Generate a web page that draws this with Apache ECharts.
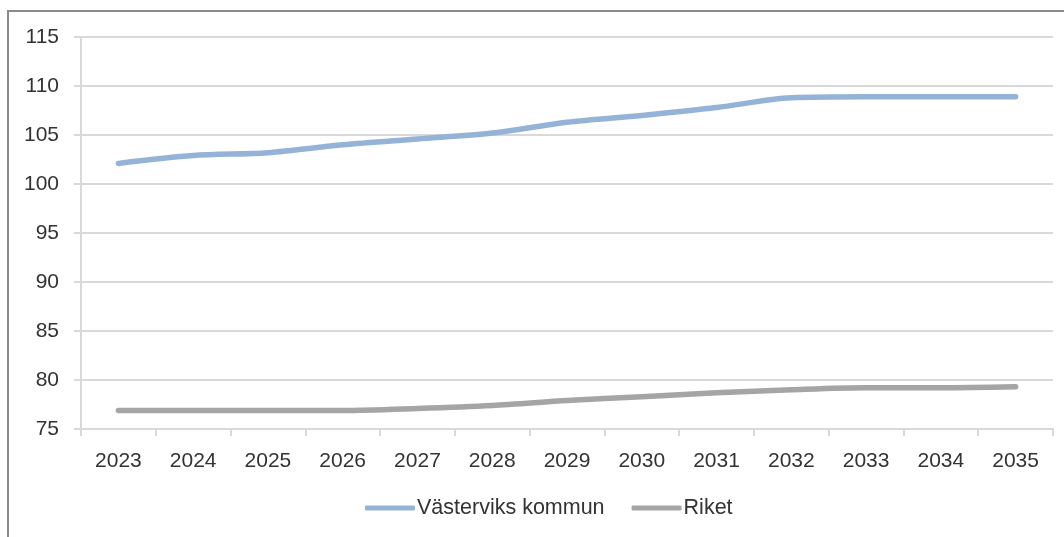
<!DOCTYPE html>
<html>
<head>
<meta charset="utf-8">
<script src="https://cdn.jsdelivr.net/npm/echarts@6/dist/echarts.min.js"></script>
<style>
html,body{margin:0;padding:0;background:#fff;}
#chart{width:1064px;height:537px;}
</style>
</head>
<body>
<div id="chart"></div>
<script>
const years = ['2023','2024','2025','2026','2027','2028','2029','2030','2031','2032','2033','2034','2035'];
const vastervik = [102.1, 102.9, 103.2, 104.0, 104.6, 105.2, 106.3, 107.0, 107.8, 108.8, 108.9, 108.9, 108.9];
const riket = [76.9, 76.9, 76.9, 76.9, 77.1, 77.4, 77.9, 78.3, 78.7, 79.0, 79.2, 79.2, 79.3];
const seriesNames = ['Västerviks kommun', 'Riket'];

const font = 'Liberation Sans';
const textColor = '#333333';
const chart = echarts.init(document.getElementById('chart'));
chart.setOption({
  animation: false,
  backgroundColor: '#fff',
  graphic: [{
    type: 'rect',
    shape: {x: 8, y: 11, width: 1100, height: 600},
    style: {fill: 'none', stroke: '#8a8a8a', lineWidth: 2},
    silent: true
  }],
  grid: {left: 81, right: 11, top: 37, bottom: 108},
  legend: {
    bottom: 13,
    left: 360,
    itemWidth: 50,
    itemHeight: 5,
    itemGap: 27,
    icon: 'roundRect',
    textStyle: {fontFamily: font, fontSize: 21.5, color: textColor, padding: [0, 0, 0, -3]},
    data: seriesNames
  },
  xAxis: {
    type: 'category',
    data: years,
    boundaryGap: true,
    axisLine: {lineStyle: {color: '#d9d9d9', width: 2}},
    axisTick: {show: true, length: 7, lineStyle: {color: '#d9d9d9', width: 2}},
    axisLabel: {fontFamily: font, fontSize: 21, color: textColor, margin: 22}
  },
  yAxis: {
    type: 'value',
    min: 75,
    max: 115,
    interval: 5,
    axisLine: {show: true, lineStyle: {color: '#d9d9d9', width: 2}},
    axisTick: {show: true, length: 7, lineStyle: {color: '#d9d9d9', width: 2}},
    splitLine: {lineStyle: {color: '#d9d9d9', width: 2}},
    axisLabel: {fontFamily: font, fontSize: 21, color: textColor, margin: 22}
  },
  series: [
    {
      name: seriesNames[0], type: 'line', data: vastervik, symbol: 'none', smooth: 0.3,
      lineStyle: {color: '#95b3d7', width: 5.5, cap: 'round', join: 'round'},
      itemStyle: {color: '#95b3d7'}
    },
    {
      name: seriesNames[1], type: 'line', data: riket, symbol: 'none', smooth: 0.3,
      lineStyle: {color: '#a5a5a5', width: 5.5, cap: 'round', join: 'round'},
      itemStyle: {color: '#a5a5a5'}
    }
  ]
});
</script>
</body>
</html>
